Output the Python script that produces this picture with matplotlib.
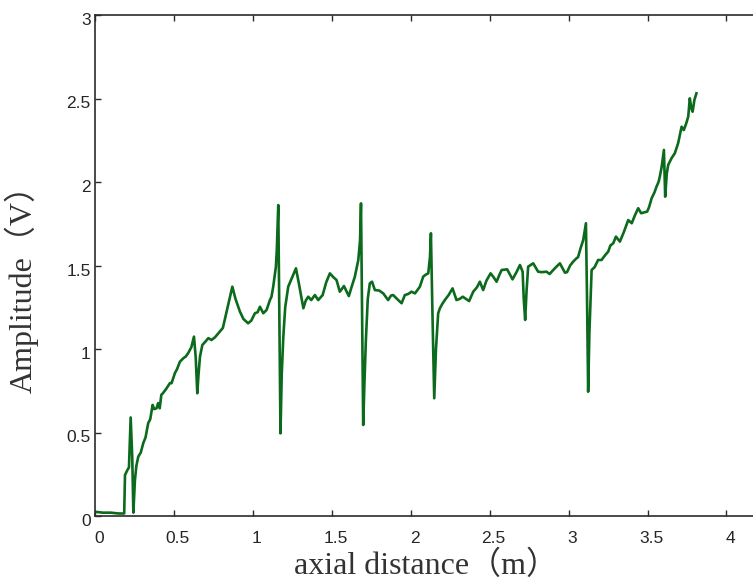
import matplotlib
matplotlib.use("Agg")
import matplotlib.pyplot as plt
from matplotlib.transforms import ScaledTranslation

# ---- data ----
distance_m = [
    0.00, 0.05, 0.10, 0.15, 0.185, 0.19, 0.205, 0.215, 0.226, 0.236, 0.243, 0.253, 0.262, 0.274, 0.29,
    0.306, 0.32, 0.337, 0.35, 0.365, 0.375, 0.39, 0.40, 0.41, 0.42, 0.43, 0.45, 0.475, 0.485, 0.506,
    0.52, 0.538, 0.56, 0.575, 0.59, 0.61, 0.627, 0.638, 0.648, 0.656, 0.665, 0.68, 0.70, 0.718, 0.738,
    0.76, 0.79, 0.81, 0.834, 0.85, 0.87, 0.89, 0.918, 0.94, 0.97, 0.99, 1.013, 1.03, 1.045, 1.066,
    1.087, 1.108, 1.118, 1.129, 1.146, 1.152, 1.161, 1.167, 1.175, 1.183, 1.193, 1.205, 1.224, 1.245,
    1.273, 1.29, 1.32, 1.335, 1.351, 1.37, 1.393, 1.414, 1.442, 1.465, 1.488, 1.51, 1.53, 1.551, 1.577,
    1.608, 1.625, 1.646, 1.668, 1.679, 1.685, 1.692, 1.699, 1.707, 1.716, 1.728, 1.741, 1.755, 1.773,
    1.80, 1.826, 1.857, 1.875, 1.889, 1.91, 1.942, 1.963, 1.985, 2.005, 2.027, 2.058, 2.079, 2.095,
    2.111, 2.122, 2.128, 2.138, 2.149, 2.16, 2.174, 2.185, 2.20, 2.216, 2.24, 2.265, 2.29, 2.31, 2.33,
    2.37, 2.396, 2.42, 2.438, 2.459, 2.48, 2.506, 2.525, 2.544, 2.56, 2.576, 2.611, 2.645, 2.67, 2.692,
    2.709, 2.716, 2.725, 2.734, 2.744, 2.776, 2.807, 2.83, 2.86, 2.88, 2.90, 2.92, 2.945, 2.977, 2.99,
    3.01, 3.029, 3.05, 3.06, 3.075, 3.093, 3.11, 3.117, 3.124, 3.132, 3.146, 3.165, 3.187, 3.209, 3.23,
    3.251, 3.265, 3.283, 3.30, 3.325, 3.35, 3.378, 3.40, 3.42, 3.441, 3.46, 3.498, 3.51, 3.526, 3.545,
    3.557, 3.57, 3.578, 3.59, 3.604, 3.612, 3.622, 3.631, 3.652, 3.673, 3.694, 3.716, 3.73, 3.745,
    3.758, 3.768, 3.778, 3.786, 3.797, 3.81,
]
amplitude_v = [
    0.025, 0.02, 0.02, 0.015, 0.015, 0.245, 0.275, 0.29, 0.59, 0.35, 0.02, 0.215, 0.30, 0.355, 0.38,
    0.437, 0.47, 0.556, 0.58, 0.665, 0.64, 0.645, 0.676, 0.645, 0.725, 0.735, 0.76, 0.796, 0.795, 0.855,
    0.88, 0.924, 0.945, 0.955, 0.975, 1.01, 1.074, 0.95, 0.735, 0.85, 0.954, 1.024, 1.045, 1.065, 1.054,
    1.07, 1.104, 1.126, 1.224, 1.29, 1.373, 1.30, 1.224, 1.18, 1.154, 1.17, 1.214, 1.22, 1.253, 1.214,
    1.234, 1.293, 1.313, 1.373, 1.493, 1.60, 1.862, 1.30, 0.495, 0.85, 1.074, 1.25, 1.373, 1.42,
    1.483, 1.40, 1.244, 1.29, 1.313, 1.293, 1.323, 1.293, 1.323, 1.40, 1.453, 1.43, 1.413, 1.343, 1.377,
    1.317, 1.37, 1.433, 1.533, 1.65, 1.872, 1.20, 0.545, 0.80, 1.054, 1.30, 1.393, 1.403, 1.353,
    1.35, 1.333, 1.293, 1.32, 1.323, 1.303, 1.274, 1.323, 1.33, 1.343, 1.333, 1.373, 1.433, 1.445,
    1.453, 1.55, 1.693, 1.20, 0.705, 1.00, 1.214, 1.244, 1.27, 1.293, 1.323, 1.363, 1.293, 1.30, 1.313,
    1.287, 1.343, 1.37, 1.403, 1.353, 1.41, 1.453, 1.43, 1.403, 1.44, 1.473, 1.477, 1.417, 1.46, 1.503,
    1.463, 1.30, 1.174, 1.35, 1.493, 1.513, 1.463, 1.46, 1.463, 1.449, 1.47, 1.49, 1.513, 1.457, 1.46,
    1.50, 1.523, 1.543, 1.55, 1.60, 1.653, 1.753, 1.30, 0.744, 1.10, 1.473, 1.49, 1.533, 1.533, 1.56,
    1.583, 1.62, 1.633, 1.673, 1.643, 1.70, 1.772, 1.753, 1.80, 1.843, 1.813, 1.823, 1.85, 1.902, 1.94,
    1.972, 2.00, 2.032, 2.092, 2.192, 1.912, 2.05, 2.102, 2.142, 2.172, 2.232, 2.331, 2.311, 2.35,
    2.391, 2.501, 2.44, 2.421, 2.491, 2.531,
]
x_ticks = [0, 0.5, 1, 1.5, 2, 2.5, 3, 3.5, 4]
x_tick_labels = ["0", "0.5", "1", "1.5", "2", "2.5", "3", "3.5", "4"]
y_ticks = [0, 0.5, 1, 1.5, 2, 2.5, 3]
y_tick_labels = ["0", "0.5", "1", "1.5", "2", "2.5", "3"]
x_label = "axial distance（m）"
y_label = "Amplitude（V）"

W, H = 753, 582
fig = plt.figure(figsize=(W / 100, H / 100), dpi=100)
ax = fig.add_axes([95 / W, 1 - 516 / H, 663 / W, 501 / H])

ax.plot(distance_m, amplitude_v, color="#0b6a1b", linewidth=1.9, solid_joinstyle="round")

ax.set_xlim(0, 4.2)
ax.set_ylim(0, 3)
ax.set_xticks(x_ticks)
ax.set_xticklabels(x_tick_labels)
ax.set_yticks(y_ticks)
ax.set_yticklabels(y_tick_labels)

spine_color = "#2b2b2b"
for s in ["left", "bottom", "top"]:
    ax.spines[s].set_color(spine_color)
    ax.spines[s].set_linewidth(1.2)
ax.spines["right"].set_visible(False)

ax.tick_params(axis="both", direction="in", length=4.5, width=1.0, color=spine_color,
               labelcolor="#262626", labelsize=12.5)
ax.tick_params(axis="x", top=True, pad=11)
ax.tick_params(axis="y", right=False, pad=3)
for lab in ax.get_xticklabels() + ax.get_yticklabels():
    lab.set_fontfamily(["Liberation Sans", "DejaVu Sans"])

dx = ScaledTranslation(4 / 100, 0, fig.dpi_scale_trans)
dy = ScaledTranslation(0, -4 / 100, fig.dpi_scale_trans)
for lab in ax.get_xticklabels():
    lab.set_transform(lab.get_transform() + dx)
for lab in ax.get_yticklabels():
    lab.set_transform(lab.get_transform() + dy)

label_font = ["Liberation Serif", "Noto Sans CJK SC", "DejaVu Sans"]
fig.text(426 / W, 1 - 566 / H, x_label, ha="center", va="center", fontsize=23,
         family=label_font, color="#333333")
fig.text(22 / W, 1 - 281 / H, y_label, ha="center", va="center", rotation=90, fontsize=23,
         family=label_font, color="#333333")

fig.savefig("out.png", dpi=100, facecolor="white")
